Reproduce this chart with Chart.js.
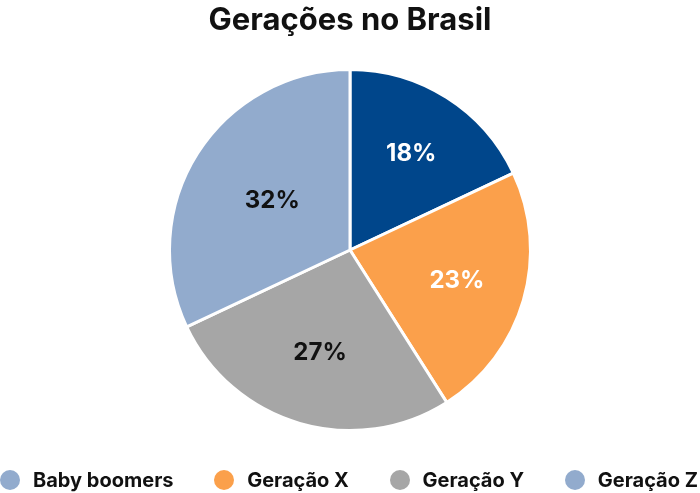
<!DOCTYPE html>
<html>
<head>
<meta charset="utf-8">
<script src="https://cdn.jsdelivr.net/npm/chart.js@4"></script>
<style>
html,body{margin:0;padding:0;background:#fff;}
#wrap{width:700px;height:493px;position:relative;}
#legend{position:absolute;left:0;top:469px;width:698px;height:22px;display:flex;justify-content:space-between;align-items:center;
  font-family:Inter,'Noto Sans',sans-serif;font-weight:700;font-size:20px;color:#111;}
#legend .item{display:flex;align-items:center;white-space:nowrap;}
#legend .dot{width:20px;height:20px;border-radius:50%;margin-right:13px;flex:none;}
</style>
</head>
<body>
<div id="wrap"><canvas id="c"></canvas><div id="legend"></div></div>
<script>
const categories = ["Baby boomers", "Geração X", "Geração Y", "Geração Z"];
const values = [18, 23, 27, 32];
const sliceColors = ["#00468b", "#fba04b", "#a6a6a6", "#92abcd"];
const legendColors = ["#92abcd", "#fba04b", "#a6a6a6", "#92abcd"];
const labelColors = ["#ffffff", "#ffffff", "#111111", "#111111"];
const labelRadius = [0.633, 0.617, 0.594, 0.51];
const FONT = "Inter, 'Noto Sans', sans-serif";

// HTML legend (real text)
const legendEl = document.getElementById('legend');
categories.forEach((c, i) => {
  const item = document.createElement('div');
  item.className = 'item';
  const dot = document.createElement('span');
  dot.className = 'dot';
  dot.style.background = legendColors[i];
  const txt = document.createElement('span');
  txt.textContent = c;
  item.appendChild(dot);
  item.appendChild(txt);
  legendEl.appendChild(item);
});

const labelPlugin = {
  id: 'sliceLabels',
  afterDatasetsDraw(chart) {
    const ctx = chart.ctx;
    const meta = chart.getDatasetMeta(0);
    const total = values.reduce((a, b) => a + b, 0);
    ctx.save();
    ctx.font = "bold 24px " + FONT;
    ctx.textAlign = 'center';
    ctx.textBaseline = 'middle';
    meta.data.forEach((arc, i) => {
      const mid = (arc.startAngle + arc.endAngle) / 2;
      const r = arc.outerRadius * labelRadius[i];
      const x = arc.x + Math.cos(mid) * r;
      const y = arc.y + Math.sin(mid) * r;
      ctx.fillStyle = labelColors[i];
      ctx.fillText(Math.round(values[i] / total * 100) + '%', x, y);
    });
    ctx.restore();
  }
};

new Chart(document.getElementById('c'), {
  type: 'pie',
  data: {
    labels: categories,
    datasets: [{
      data: values,
      backgroundColor: sliceColors,
      borderColor: '#ffffff',
      borderWidth: 3
    }]
  },
  options: {
    responsive: true,
    maintainAspectRatio: false,
    animation: false,
    layout: { padding: { top: 0, bottom: 61, left: 0, right: 0 } },
    plugins: {
      title: {
        display: true,
        text: 'Gerações no Brasil',
        color: '#111111',
        font: { family: FONT, size: 31, weight: 'bold' },
        padding: { top: 2, bottom: 28.8 }
      },
      legend: { display: false },
      tooltip: { enabled: false }
    }
  },
  plugins: [labelPlugin]
});
</script>
</body>
</html>
